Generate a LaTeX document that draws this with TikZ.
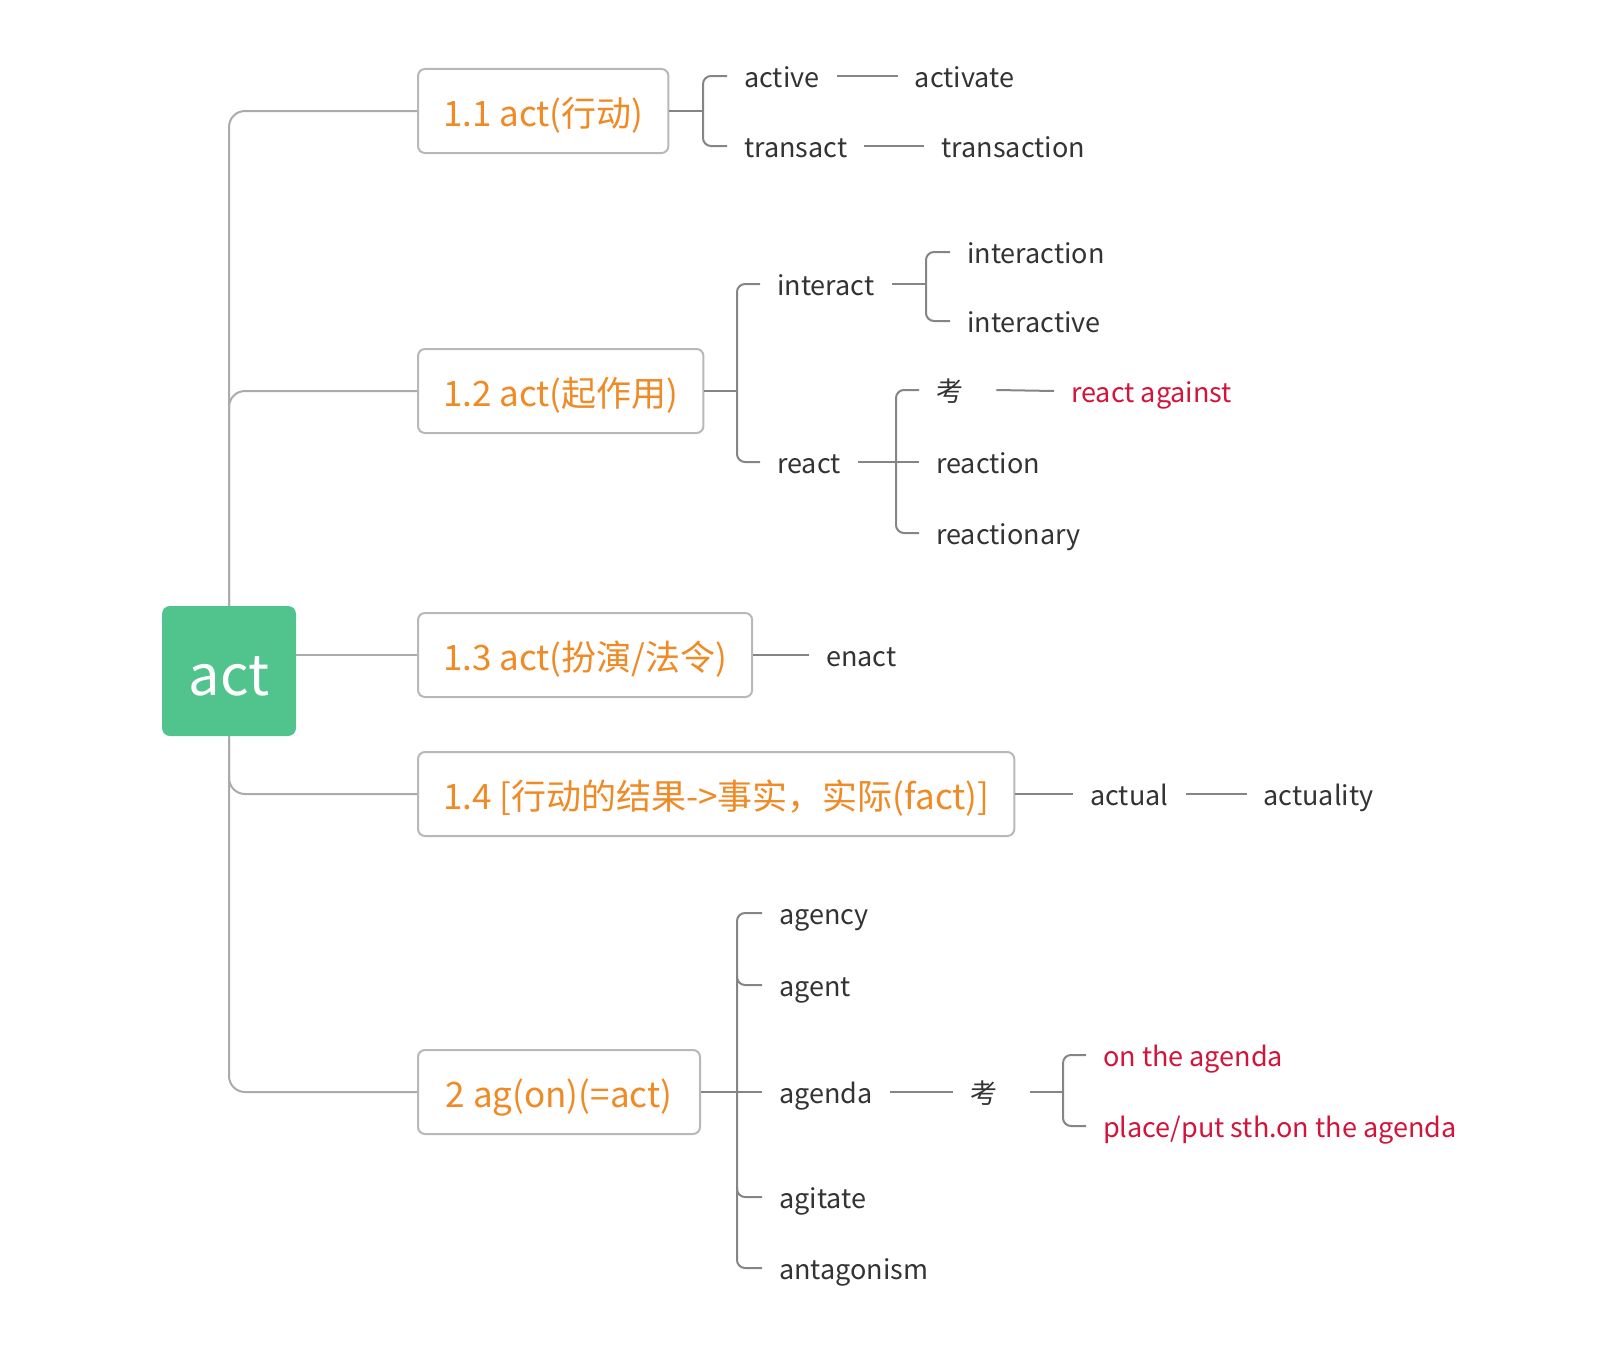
\documentclass[tikz,border=0pt]{standalone}
\usepackage{fontspec}
\setmainfont{Noto Sans CJK SC}
\usepackage{tikz}
\usetikzlibrary{positioning}
\definecolor{rootgreen}{HTML}{50C48C}
\definecolor{topicorange}{HTML}{F08A24}
\definecolor{boxgray}{HTML}{B8B8B8}
\definecolor{trunkgray}{HTML}{ABABAB}
\definecolor{linegray}{HTML}{858585}
\definecolor{wordgray}{HTML}{333333}
\definecolor{examred}{HTML}{D2143A}
\tikzset{%
  root/.style = {rectangle,rounded corners=8pt,fill=rootgreen,text=white,
        minimum width=134pt,minimum height=130pt,
        font=\fontsize{56}{60}\selectfont,text height=54pt,text depth=6pt},
  topic/.style = {rectangle,rounded corners=7pt,draw=boxgray,line width=2pt,
        fill=white,text=topicorange,anchor=west,minimum height=84pt,
        inner xsep=25pt,font=\fontsize{35}{40}\selectfont,
        text height=34pt,text depth=4pt},
  w/.style = {anchor=west,inner xsep=17pt,inner ysep=0pt,text=wordgray,
        font=\fontsize{27}{30}\selectfont,text height=27pt,text depth=4pt},
  hot/.style = {w,text=examred},
  trunk/.style = {draw=trunkgray,line width=2pt,rounded corners=16pt},
  link/.style = {draw=linegray,line width=2pt,rounded corners=8pt}
}
\begin{document}
\begin{tikzpicture}[x=1pt,y=-1pt]
\useasboundingbox (0,0) rectangle (1600,1346);
\node[root] (act) at (229,671) {act};
\node[topic,minimum width=247pt] (t11) at (417,111) {1.1 act(行动)};
\node[topic,minimum width=281pt] (t12) at (417,391) {1.2 act(起作用)};
\node[topic,minimum width=330pt] (t13) at (417,655) {1.3 act(扮演/法令)};
\node[topic,minimum width=594pt] (t14) at (417,794) {1.4 [行动的结果->事实，实际(fact)]};
\node[topic,minimum width=282pt] (t2) at (417,1092) {2 ag(on)(=act)};

\draw[trunk] (act.north) |- (t11.west);
\draw[trunk] (act.north) |- (t12.west);
\draw[trunk] (act.east |- t13.west) -- (t13.west);
\draw[trunk] (act.south) |- (t14.west);
\draw[trunk] (act.south) |- (t2.west);

\node[w] (active) at (727,76) {active};
\node[w,right=61pt of active] (activate) {activate};
\node[w] (transact) at (727,146) {transact};
\node[w,right=60pt of transact] (transaction) {transaction};
\coordinate (k11) at (703,111);
\draw[link] (t11.east) -- (k11);
\draw[link] (active.west) -| (k11 |- transact.west) -- (transact.west);
\draw[link] (active.east) -- (activate.west);
\draw[link] (transact.east) -- (transaction.west);

\node[w] (interact) at (760,284) {interact};
\node[w] (interaction) at (950,252) {interaction};
\node[w] (interactive) at (950,321) {interactive};
\node[w] (react) at (760,462) {react};
\node[w] (kao1) at (919,390) {考};
\node[hot] (against) at (1054,391) {react against};
\node[w] (reaction) at (919,462) {reaction};
\node[w] (reactionary) at (919,533) {reactionary};
\coordinate (k12) at (737,391);
\coordinate (k121) at (926,284);
\coordinate (k122) at (896,462);
\draw[link] (t12.east) -- (k12);
\draw[link] (interact.west) -| (k12 |- react.west) -- (react.west);
\draw[link] (interact.east) -- (k121);
\draw[link] (interaction.west) -| (k121 |- interactive.west) -- (interactive.west);
\draw[link] (react.east) -- (reaction.west);
\draw[link] (kao1.west) -| (k122 |- reactionary.west) -- (reactionary.west);
\draw[link] ([xshift=16pt]kao1.east) -- (against.west);

\node[w] (enact) at (809,655) {enact};
\draw[link] (t13.east) -- (enact.west);

\node[w] (actual) at (1073,794) {actual};
\node[w,right=61pt of actual] (actuality) {actuality};
\draw[link] (t14.east) -- (actual.west);
\draw[link] (actual.east) -- (actuality.west);

\node[w] (agency) at (762,913) {agency};
\node[w] (agent) at (762,985) {agent};
\node[w] (agenda) at (762,1092) {agenda};
\node[w] (agitate) at (762,1197) {agitate};
\node[w] (antagonism) at (762,1268) {antagonism};
\node[w,right=63pt of agenda] (kao2) {考};
\node[hot] (onagenda) at (1086,1055) {on the agenda};
\node[hot] (putagenda) at (1086,1126) {place/put sth.on the agenda};
\coordinate (k2) at (737,1092);
\coordinate (k21) at (1063,1092);
\draw[link] (t2.east) -- (agenda.west);
\draw[link] (agency.west) -| (k2 |- antagonism.west) -- (antagonism.west);
\draw[link] ([yshift=10pt]k2 |- agent.west) |- (agent.west);
\draw[link] ([yshift=10pt]k2 |- agitate.west) |- (agitate.west);
\draw[link] (agenda.east) -- (kao2.west);
\draw[link] ([xshift=16pt]kao2.east) -- (k21);
\draw[link] (onagenda.west) -| (k21 |- putagenda.west) -- (putagenda.west);
\end{tikzpicture}
\end{document}
